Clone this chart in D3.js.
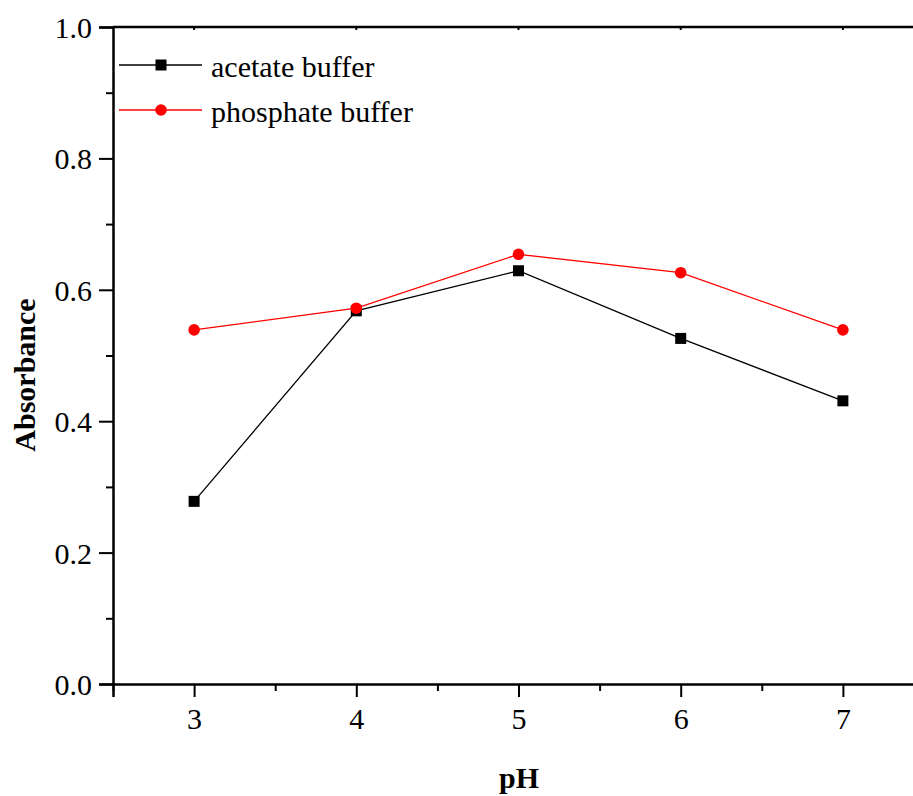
<!DOCTYPE html>
<html><head><meta charset="utf-8">
<script src="https://cdn.jsdelivr.net/npm/d3@7"></script>
<style>body{margin:0;background:#fff}svg{display:block}</style>
</head><body><svg id="c" width="913" height="796"></svg>
<script>
const pH = [3, 4, 5, 6, 7];
const acetate = [0.278, 0.568, 0.629, 0.526, 0.431];
const phosphate = [0.539, 0.572, 0.654, 0.626, 0.539];
const yTicks = [0.0, 0.2, 0.4, 0.6, 0.8, 1.0];
const seriesNames = ["acetate buffer", "phosphate buffer"];

const FONT = "'Liberation Serif', 'Times New Roman', Times, serif";
const svg = d3.select("#c");
const L = 113, R = 924, T = 27, B = 684;
const x = d3.scaleLinear().domain([2.5, 7.5]).range([L, R]);
const y = d3.scaleLinear().domain([0, 1]).range([B, T]);

// minor ticks
const g = svg.append("g");
g.append("g").attr("transform", `translate(0,${B})`)
  .call(d3.axisBottom(x).tickValues(d3.range(2.5, 7.6, 0.5).filter(v => v % 1 !== 0)).tickSize(7).tickFormat(""))
  .call(s => s.select(".domain").remove());
g.append("g").attr("transform", `translate(${L},0)`)
  .call(d3.axisLeft(y).tickValues([0.1, 0.3, 0.5, 0.7, 0.9]).tickSize(7).tickFormat(""))
  .call(s => s.select(".domain").remove());
g.selectAll("line").attr("stroke", "#000").attr("stroke-width", 2);

// major axes
const xa = svg.append("g").attr("transform", `translate(0,${B})`)
  .call(d3.axisBottom(x).tickValues(pH).tickSize(13).tickPadding(11).tickFormat(d3.format("d")));
const ya = svg.append("g").attr("transform", `translate(${L},0)`)
  .call(d3.axisLeft(y).tickValues(yTicks).tickSize(14).tickPadding(7).tickFormat(d3.format(".1f")));
[xa, ya].forEach(a => {
  a.attr("font-family", null).attr("font-size", null);
  a.select(".domain").attr("stroke", "#000").attr("stroke-width", 2.5);
  a.selectAll("line").attr("stroke", "#000").attr("stroke-width", 2);
  a.selectAll("text").style("font-family", FONT).style("font-size", "30px").attr("fill", "#000");
});
ya.selectAll("text").attr("dy", "0.35em");
// top border
svg.append("line").attr("x1", L).attr("x2", 913).attr("y1", T).attr("y2", T).attr("stroke", "#000").attr("stroke-width", 2.5);
svg.append("g").selectAll("line").data(pH).join("line")
  .attr("x1", d => x(d)).attr("x2", d => x(d)).attr("y1", T).attr("y2", T + 3)
  .attr("stroke", "#000").attr("stroke-width", 2);

// lines
const line = d3.line().x(d => x(d[0])).y(d => y(d[1]));
const sets = [
  {name: seriesNames[0], vals: acetate, color: "#000", shape: "square"},
  {name: seriesNames[1], vals: phosphate, color: "#ff0000", shape: "circle"}
];
sets.forEach(s => {
  const pts = pH.map((p, i) => [p, s.vals[i]]);
  svg.append("path").datum(pts).attr("d", line).attr("fill", "none").attr("stroke", s.color).attr("stroke-width", 1.3);
});
function marker(sel, s, cx, cy) {
  if (s.shape === "square") sel.append("rect").attr("x", cx - 5.5).attr("y", cy - 5.5).attr("width", 11).attr("height", 11).attr("fill", s.color);
  else sel.append("circle").attr("cx", cx).attr("cy", cy).attr("r", 5.8).attr("fill", s.color);
}
sets.forEach(s => {
  const mg = svg.append("g");
  pH.forEach((p, i) => marker(mg, s, x(p), y(s.vals[i])));
});

// legend
sets.forEach((s, i) => {
  const ly = 65 + i * 45;
  svg.append("line").attr("x1", 119).attr("x2", 202).attr("y1", ly).attr("y2", ly).attr("stroke", s.color).attr("stroke-width", 1.3);
  marker(svg, s, 161, ly);
  svg.append("text").attr("x", 211).attr("y", ly + 12).style("font-family", FONT).style("font-size", "30px").text(s.name);
});

// axis titles
svg.append("text").attr("x", 519).attr("y", 788).attr("text-anchor", "middle").style("font-family", FONT).style("font-size", "30px").style("font-weight", "bold").text("pH");
svg.append("text").attr("transform", "translate(35,375) rotate(-90)").attr("text-anchor", "middle").style("font-family", FONT).style("font-size", "30px").style("font-weight", "bold").text("Absorbance");
</script></body></html>
